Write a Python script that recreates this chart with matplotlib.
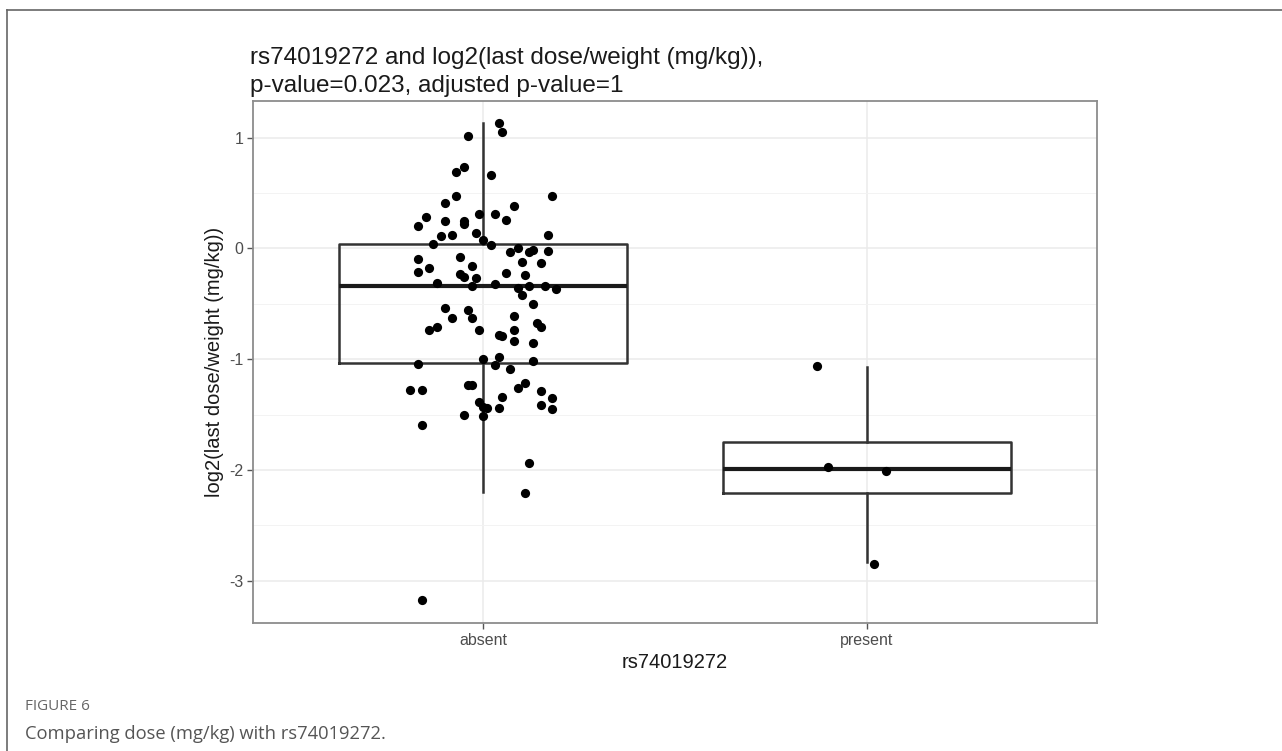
import numpy as np
import matplotlib
matplotlib.use("Agg")
import matplotlib.pyplot as plt
from matplotlib.lines import Line2D

plt.rcParams['font.family'] = ['Liberation Sans', 'DejaVu Sans']
plt.rcParams['axes.unicode_minus'] = False

# categories
groups = ['absent', 'present']

# jittered points: (offset from category centre, value)
absent_jit = [0.04, 0.05, -0.04, -0.05, -0.07, 0.02, 0.18, -0.07, -0.10, 0.08,
              -0.15, -0.10, -0.05, -0.01, 0.03, 0.06, -0.17, -0.05, -0.11, -0.08,
              -0.02, 0.17, -0.13, 0.00, 0.02, 0.07, 0.09, 0.12, 0.13, 0.17,
              -0.17, -0.06, -0.14, -0.17, -0.03, 0.10, 0.15, 0.06, 0.11, -0.06,
              -0.05, -0.02, -0.03, -0.12, 0.03, 0.09, 0.10, 0.12, 0.16, 0.19,
              0.13, -0.10, -0.04, -0.03, -0.08, 0.08, 0.14, 0.15, -0.12, -0.14,
              -0.01, 0.08, 0.04, 0.05, 0.08, 0.13, -0.17, 0.00, 0.04, 0.03,
              0.07, 0.13, -0.19, -0.16, -0.04, -0.03, 0.11, 0.09, 0.15, 0.18,
              0.05, -0.01, 0.00, 0.01, 0.04, 0.15, 0.18, -0.05, 0.00, -0.16,
              0.12, 0.11, -0.16]
absent_vals = [1.13, 1.05, 1.01, 0.73, 0.69, 0.66, 0.47, 0.47, 0.41, 0.38,
               0.28, 0.25, 0.25, 0.31, 0.31, 0.26, 0.20, 0.22, 0.11, 0.12,
               0.14, 0.12, 0.04, 0.08, 0.03, -0.03, 0.00, -0.03, -0.01, -0.02,
               -0.10, -0.08, -0.18, -0.21, -0.16, -0.12, -0.13, -0.22, -0.24, -0.23,
               -0.26, -0.27, -0.34, -0.31, -0.32, -0.36, -0.42, -0.34, -0.34, -0.37,
               -0.50, -0.54, -0.56, -0.63, -0.63, -0.61, -0.67, -0.71, -0.71, -0.74,
               -0.74, -0.74, -0.78, -0.79, -0.84, -0.85, -1.04, -1.00, -0.98, -1.05,
               -1.09, -1.02, -1.28, -1.28, -1.23, -1.23, -1.21, -1.26, -1.29, -1.35,
               -1.34, -1.39, -1.43, -1.44, -1.44, -1.41, -1.45, -1.50, -1.51, -1.59,
               -1.94, -2.21, -3.17]
present_jit = [-0.13, -0.10, 0.05, 0.02]
present_vals = [-1.06, -1.97, -2.01, -2.85]

# box statistics
box_lo = [-2.20, -2.83]
box_q1 = [-1.03, -2.21]
box_med = [-0.34, -1.99]
box_q3 = [0.04, -1.75]
box_hi = [1.13, -1.07]

W, H = 1282, 751
fig = plt.figure(figsize=(W / 100, H / 100), dpi=100)
ax = fig.add_axes([253 / W, 1 - 623 / H, (1097 - 253) / W, (623 - 101) / H])

pos = np.arange(1, len(groups) + 1)
stats = []
for i in range(len(groups)):
    stats.append(dict(whislo=box_lo[i], q1=box_q1[i], med=box_med[i],
                      q3=box_q3[i], whishi=box_hi[i], fliers=[]))
ax.bxp(stats, positions=pos, widths=0.75, showfliers=False, showcaps=False,
       boxprops=dict(color='#333333', lw=1.8),
       whiskerprops=dict(color='#333333', lw=1.8),
       medianprops=dict(color='#1a1a1a', lw=3.0), zorder=2)

ax.scatter(pos[0] + np.array(absent_jit), absent_vals, s=44, color='black',
           lw=0, zorder=3)
ax.scatter(pos[1] + np.array(present_jit), present_vals, s=44, color='black',
           lw=0, zorder=3)

ax.set_xlim(0.4, 2.6)
ax.set_ylim(-3.38, 1.33)
ax.set_xticks(pos)
ax.set_xticklabels(groups)
ax.set_yticks([-3, -2, -1, 0, 1])
ax.set_yticks([-2.5, -1.5, -0.5, 0.5], minor=True)
ax.grid(which='major', color='#ebebeb', lw=1.1)
ax.grid(which='minor', axis='y', color='#f3f3f3', lw=0.7)
ax.set_axisbelow(True)
ax.tick_params(which='major', length=4, width=1, color='#555555',
               labelcolor='#4d4d4d', labelsize=11.5, pad=3)
ax.tick_params(which='minor', length=0)
for s in ax.spines.values():
    s.set_color('#8c8c8c')
    s.set_linewidth(1.3)

# titles (ggplot-like placement: title left on the panel, axis titles centred)
fig.text(250 / W, 1 - 58 / H, 'rs74019272 and log2(last dose/weight (mg/kg)),',
         ha='left', va='center', fontsize=17.5, color='#1a1a1a')
fig.text(250 / W, 1 - 86 / H, 'p-value=0.023, adjusted p-value=1',
         ha='left', va='center', fontsize=17.5, color='#1a1a1a')
fig.text(214 / W, 1 - 362 / H, 'log2(last dose/weight (mg/kg))', rotation=90,
         ha='center', va='center', fontsize=14.5, color='#1a1a1a')
fig.text(675 / W, 1 - 662 / H, 'rs74019272', ha='center', va='center',
         fontsize=14.5, color='#1a1a1a')

# outer frame and caption
fig.add_artist(Line2D([7 / W, 1], [1 - 10 / H, 1 - 10 / H], transform=fig.transFigure,
                      color='#666666', lw=1.2))
fig.add_artist(Line2D([7 / W, 7 / W], [0, 1 - 10 / H], transform=fig.transFigure,
                      color='#666666', lw=1.2))
fig.text(25 / W, 1 - 707 / H, 'FIGURE 6', ha='left', va='center', fontsize=11,
         color='#666666', family=['Open Sans', 'DejaVu Sans'])
fig.text(25 / W, 1 - 734 / H, 'Comparing dose (mg/kg) with rs74019272.', ha='left',
         va='center', fontsize=13.2, color='#555555', family=['Open Sans', 'DejaVu Sans'])

fig.savefig('out.png', dpi=100)
